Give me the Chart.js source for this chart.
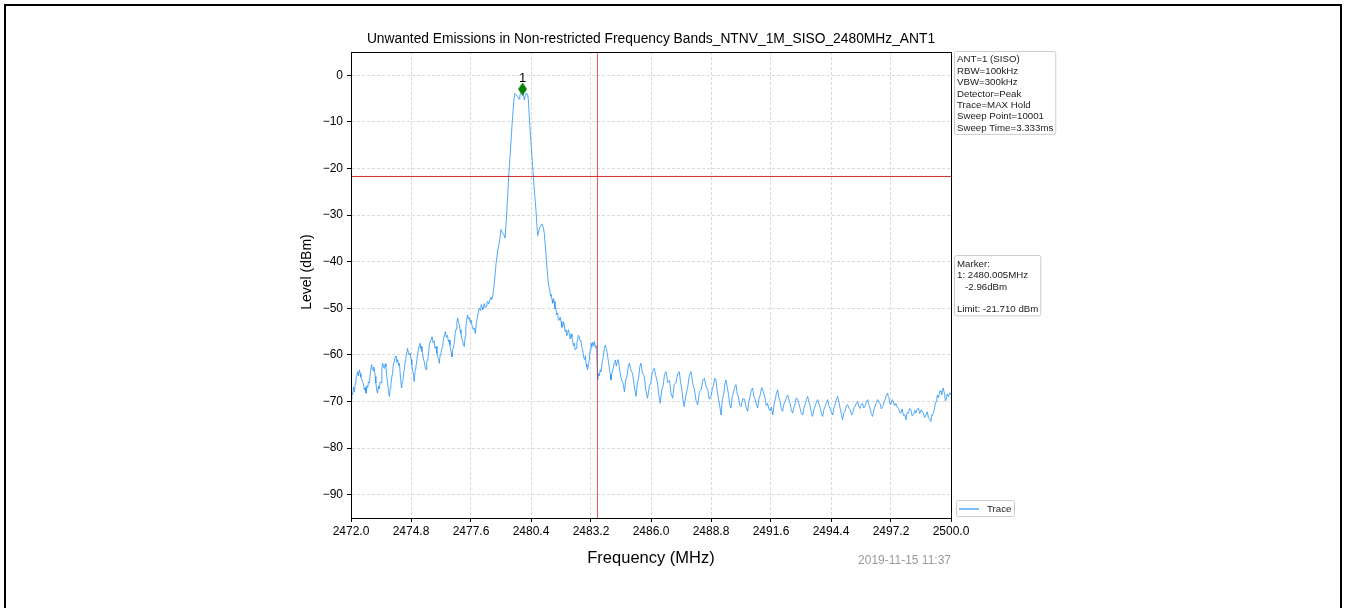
<!DOCTYPE html>
<html>
<head>
<meta charset="utf-8">
<title>Unwanted Emissions</title>
<script src="https://cdn.jsdelivr.net/npm/chart.js@4.4.1/dist/chart.umd.min.js"></script>
<style>
  html, body { margin: 0; padding: 0; background: #fff; overflow: hidden; }
  #frame { position: absolute; left: 4px; top: 4px; width: 1334px; height: 700px; border: 2px solid #000; }
  #emissionChart { position: absolute; left: 0; top: 0; }
</style>
</head>
<body>
<div id="frame"></div>
<canvas id="emissionChart" width="1346" height="608"></canvas>
<script>
const FONT = "'Liberation Sans', Arial, sans-serif";
const TRACE_COLOR = '#2493f5';
const LIMIT_COLOR = '#d42a2a';

const chartTitle = 'Unwanted Emissions in Non-restricted Frequency Bands_NTNV_1M_SISO_2480MHz_ANT1';
const timeStamp = '2019-11-15 11:37';

const xTicks = [2472.0, 2474.8, 2477.6, 2480.4, 2483.2, 2486.0, 2488.8, 2491.6, 2494.4, 2497.2, 2500.0];
const yTicks = [0, -10, -20, -30, -40, -50, -60, -70, -80, -90];

const limitDbm = -21.71;
const bandEdgeMHz = 2483.5;
const markerFreq = 2480.005;
const markerLevel = -2.96;

const settingLines = ['ANT=1 (SISO)', 'RBW=100kHz', 'VBW=300kHz', 'Detector=Peak',
  'Trace=MAX Hold', 'Sweep Point=10001', 'Sweep Time=3.333ms'];

// [frequency MHz, level dBm]
const trace = [
  [2472.00, -69.6], [2472.04, -68.2], [2472.08, -68.5], [2472.12, -66.9], [2472.16, -67.9],
  [2472.20, -66.1], [2472.23, -65.0], [2472.27, -64.6], [2472.31, -63.6], [2472.35, -64.5],
  [2472.39, -63.2], [2472.43, -64.0], [2472.46, -64.8], [2472.50, -65.1], [2472.54, -66.0],
  [2472.58, -66.1], [2472.62, -67.5], [2472.66, -67.0], [2472.70, -68.2], [2472.74, -66.6],
  [2472.78, -67.0], [2472.82, -65.8], [2472.86, -66.0], [2472.91, -63.5], [2472.96, -62.1],
  [2473.00, -63.0], [2473.03, -63.4], [2473.06, -62.6], [2473.09, -62.9], [2473.13, -64.6],
  [2473.16, -66.0], [2473.20, -67.6], [2473.24, -68.2], [2473.28, -66.7], [2473.32, -67.3],
  [2473.36, -65.8], [2473.40, -66.0], [2473.44, -63.0], [2473.48, -61.8], [2473.52, -62.6],
  [2473.56, -62.9], [2473.60, -61.9], [2473.63, -62.5], [2473.67, -64.6], [2473.71, -66.0],
  [2473.75, -67.8], [2473.79, -68.9], [2473.83, -67.2], [2473.86, -66.5], [2473.90, -64.8],
  [2473.94, -64.0], [2473.98, -62.0], [2474.02, -61.5], [2474.06, -60.5], [2474.10, -60.2],
  [2474.14, -61.6], [2474.18, -61.0], [2474.22, -62.3], [2474.26, -61.8], [2474.31, -65.0],
  [2474.36, -67.1], [2474.39, -65.8], [2474.42, -65.5], [2474.46, -63.7], [2474.49, -63.2],
  [2474.53, -61.3], [2474.56, -60.5], [2474.60, -59.6], [2474.64, -58.6], [2474.68, -59.5],
  [2474.72, -60.0], [2474.76, -59.6], [2474.80, -61.0], [2474.84, -62.1], [2474.88, -63.5],
  [2474.92, -64.3], [2474.95, -65.7], [2475.00, -63.0], [2475.03, -62.4], [2475.06, -61.8],
  [2475.10, -60.1], [2475.14, -59.0], [2475.18, -58.1], [2475.22, -57.5], [2475.25, -58.6],
  [2475.28, -58.2], [2475.31, -59.3], [2475.34, -59.6], [2475.38, -60.9], [2475.42, -61.5],
  [2475.46, -62.6], [2475.50, -63.2], [2475.53, -61.9], [2475.56, -61.0], [2475.59, -60.6],
  [2475.62, -59.6], [2475.66, -57.8], [2475.70, -57.0], [2475.74, -56.8], [2475.78, -56.1],
  [2475.83, -57.4], [2475.88, -57.0], [2475.92, -58.6], [2475.97, -58.2], [2476.01, -59.7],
  [2476.05, -60.5], [2476.09, -61.0], [2476.12, -61.8], [2476.16, -60.0], [2476.20, -59.5],
  [2476.24, -58.6], [2476.28, -58.2], [2476.31, -56.7], [2476.34, -56.0], [2476.37, -55.6],
  [2476.40, -55.0], [2476.45, -56.2], [2476.50, -55.8], [2476.55, -57.2], [2476.59, -56.8],
  [2476.62, -57.9], [2476.65, -58.8], [2476.68, -59.6], [2476.71, -60.4], [2476.74, -59.0],
  [2476.76, -58.5], [2476.79, -58.0], [2476.82, -57.5], [2476.86, -55.4], [2476.90, -54.5],
  [2476.94, -53.0], [2476.98, -52.1], [2477.01, -52.9], [2477.05, -53.5], [2477.09, -54.6],
  [2477.13, -55.4], [2477.17, -56.6], [2477.21, -57.0], [2477.25, -58.0], [2477.29, -58.2],
  [2477.33, -56.0], [2477.36, -54.0], [2477.40, -52.6], [2477.44, -51.4], [2477.48, -52.3],
  [2477.52, -52.0], [2477.56, -53.0], [2477.60, -52.5], [2477.65, -53.8], [2477.70, -54.5],
  [2477.75, -54.2], [2477.80, -55.4], [2477.85, -53.2], [2477.90, -52.0], [2477.95, -50.6],
  [2477.99, -50.0], [2478.04, -50.5], [2478.08, -49.2], [2478.12, -49.9], [2478.15, -50.3],
  [2478.19, -49.4], [2478.22, -49.0], [2478.26, -49.9], [2478.30, -49.6], [2478.34, -48.9],
  [2478.38, -48.5], [2478.42, -49.1], [2478.45, -48.8], [2478.49, -48.0], [2478.53, -47.6],
  [2478.57, -48.1], [2478.61, -47.5], [2478.68, -45.0], [2478.77, -40.4], [2478.85, -37.5],
  [2478.92, -36.0], [2479.00, -33.1], [2479.06, -33.8], [2479.12, -34.0], [2479.19, -34.9],
  [2479.26, -30.3], [2479.31, -26.0], [2479.36, -21.7], [2479.42, -17.5], [2479.47, -13.9],
  [2479.54, -8.9], [2479.60, -5.5], [2479.65, -3.9], [2479.71, -4.2], [2479.78, -4.6],
  [2479.84, -5.1], [2479.88, -4.3], [2479.93, -3.9], [2479.97, -3.5], [2480.005, -2.96],
  [2480.05, -4.2], [2480.09, -5.3], [2480.13, -4.4], [2480.17, -3.9], [2480.24, -4.0],
  [2480.28, -5.5], [2480.32, -8.9], [2480.40, -14.6], [2480.46, -18.5], [2480.51, -21.7],
  [2480.57, -25.5], [2480.63, -28.9], [2480.71, -34.4], [2480.79, -33.0], [2480.85, -32.3],
  [2480.91, -31.9], [2480.97, -32.6], [2481.02, -33.9], [2481.10, -38.5], [2481.18, -43.2],
  [2481.23, -45.3], [2481.28, -46.1], [2481.31, -47.4], [2481.34, -47.0], [2481.38, -48.2],
  [2481.41, -48.9], [2481.45, -47.9], [2481.48, -48.5], [2481.52, -50.1], [2481.56, -50.0],
  [2481.60, -51.4], [2481.64, -51.0], [2481.68, -52.6], [2481.72, -52.5], [2481.76, -51.9],
  [2481.80, -52.8], [2481.84, -54.1], [2481.88, -53.9], [2481.92, -52.9], [2481.95, -53.5],
  [2481.99, -55.0], [2482.03, -54.6], [2482.07, -55.9], [2482.11, -55.2], [2482.15, -54.6],
  [2482.19, -55.7], [2482.23, -56.6], [2482.27, -55.5], [2482.31, -56.2], [2482.34, -56.8],
  [2482.38, -58.0], [2482.42, -57.5], [2482.46, -58.9], [2482.50, -58.6], [2482.54, -57.4],
  [2482.57, -57.0], [2482.61, -55.8], [2482.65, -56.0], [2482.69, -56.9], [2482.73, -57.0],
  [2482.77, -58.4], [2482.81, -58.9], [2482.86, -60.6], [2482.90, -61.0], [2482.94, -60.2],
  [2482.97, -62.0], [2483.01, -62.6], [2483.04, -63.2], [2483.08, -62.2], [2483.12, -61.0],
  [2483.16, -58.9], [2483.20, -57.5], [2483.24, -58.3], [2483.28, -57.3], [2483.32, -58.0],
  [2483.36, -57.1], [2483.40, -58.4], [2483.43, -58.0], [2483.46, -58.6], [2483.51, -65.4],
  [2483.55, -64.0], [2483.59, -64.5], [2483.63, -63.2], [2483.67, -63.6], [2483.72, -61.6],
  [2483.77, -60.5], [2483.82, -58.6], [2483.87, -57.9], [2483.92, -58.8], [2483.98, -60.4],
  [2484.02, -61.6], [2484.06, -63.0], [2484.10, -64.2], [2484.13, -65.4], [2484.18, -63.8],
  [2484.23, -63.0], [2484.28, -61.9], [2484.34, -61.1], [2484.38, -62.4], [2484.43, -61.5],
  [2484.47, -61.0], [2484.52, -62.5], [2484.58, -64.6], [2484.64, -65.5], [2484.70, -66.2],
  [2484.76, -67.9], [2484.82, -65.4], [2484.88, -64.5], [2484.94, -62.4], [2484.99, -61.8],
  [2485.06, -63.2], [2485.14, -64.0], [2485.22, -66.8], [2485.30, -68.9], [2485.36, -66.2],
  [2485.42, -65.0], [2485.48, -62.5], [2485.53, -61.8], [2485.60, -63.9], [2485.68, -64.5],
  [2485.76, -67.6], [2485.84, -69.3], [2485.92, -66.8], [2485.99, -66.0], [2486.07, -63.5],
  [2486.15, -62.9], [2486.22, -64.4], [2486.30, -66.0], [2486.37, -68.7], [2486.43, -70.4],
  [2486.50, -67.6], [2486.57, -66.5], [2486.63, -64.2], [2486.70, -63.6], [2486.78, -65.9],
  [2486.86, -65.5], [2486.94, -68.4], [2487.01, -69.3], [2487.08, -66.4], [2487.16, -66.0],
  [2487.24, -64.1], [2487.32, -63.6], [2487.38, -65.8], [2487.44, -67.5], [2487.50, -69.9],
  [2487.55, -71.1], [2487.63, -68.6], [2487.71, -67.0], [2487.79, -64.4], [2487.87, -63.6],
  [2487.95, -66.2], [2488.03, -67.5], [2488.10, -69.8], [2488.18, -70.7], [2488.26, -67.9],
  [2488.34, -67.5], [2488.42, -65.4], [2488.49, -65.0], [2488.57, -66.8], [2488.65, -67.5],
  [2488.72, -69.5], [2488.80, -68.9], [2488.86, -67.3], [2488.92, -66.5], [2488.97, -65.0],
  [2489.03, -65.4], [2489.09, -67.8], [2489.15, -69.5], [2489.21, -71.0], [2489.27, -72.9],
  [2489.33, -69.6], [2489.39, -68.5], [2489.45, -66.1], [2489.50, -65.4], [2489.56, -67.0],
  [2489.62, -68.5], [2489.67, -70.6], [2489.73, -71.4], [2489.79, -69.0], [2489.85, -68.0],
  [2489.91, -66.9], [2489.97, -66.4], [2490.02, -68.2], [2490.08, -69.0], [2490.14, -70.8],
  [2490.20, -71.1], [2490.28, -69.4], [2490.36, -69.5], [2490.44, -71.3], [2490.51, -72.1],
  [2490.56, -70.2], [2490.62, -69.0], [2490.68, -67.6], [2490.74, -67.1], [2490.80, -68.9],
  [2490.86, -69.5], [2490.92, -70.6], [2490.98, -71.4], [2491.04, -69.4], [2491.10, -68.5],
  [2491.16, -67.0], [2491.21, -67.5], [2491.27, -68.3], [2491.33, -69.5], [2491.38, -70.9],
  [2491.44, -70.4], [2491.50, -71.6], [2491.56, -72.0], [2491.62, -71.2], [2491.68, -72.9],
  [2491.74, -70.8], [2491.80, -69.5], [2491.86, -68.1], [2491.91, -67.5], [2491.97, -69.2],
  [2492.03, -70.0], [2492.08, -71.6], [2492.14, -72.1], [2492.20, -70.6], [2492.26, -70.0],
  [2492.32, -69.1], [2492.38, -68.6], [2492.44, -69.8], [2492.50, -70.5], [2492.55, -71.9],
  [2492.61, -72.5], [2492.67, -71.2], [2492.73, -70.5], [2492.78, -69.2], [2492.84, -69.6],
  [2492.90, -70.4], [2492.96, -71.5], [2493.02, -72.6], [2493.08, -72.9], [2493.14, -71.3],
  [2493.20, -70.5], [2493.26, -69.5], [2493.31, -68.9], [2493.37, -70.1], [2493.43, -71.0],
  [2493.49, -72.6], [2493.54, -73.2], [2493.60, -71.8], [2493.66, -71.0], [2493.72, -70.1],
  [2493.78, -69.6], [2493.84, -70.6], [2493.90, -71.5], [2493.95, -72.5], [2494.01, -73.2],
  [2494.07, -71.7], [2494.13, -71.0], [2494.19, -70.2], [2494.24, -69.6], [2494.30, -70.8],
  [2494.36, -71.5], [2494.42, -72.3], [2494.48, -72.9], [2494.54, -71.3], [2494.60, -70.5],
  [2494.66, -69.4], [2494.71, -68.9], [2494.77, -70.2], [2494.83, -71.5], [2494.89, -72.8],
  [2494.94, -73.9], [2495.00, -72.4], [2495.06, -72.0], [2495.12, -70.9], [2495.18, -70.7],
  [2495.24, -71.5], [2495.30, -71.8], [2495.36, -72.9], [2495.41, -72.5], [2495.47, -71.4],
  [2495.53, -71.0], [2495.59, -70.3], [2495.64, -70.0], [2495.70, -71.1], [2495.76, -71.5],
  [2495.82, -70.6], [2495.87, -70.4], [2495.93, -71.4], [2495.99, -71.0], [2496.05, -70.1],
  [2496.11, -69.6], [2496.16, -70.5], [2496.22, -71.5], [2496.28, -72.6], [2496.34, -73.2],
  [2496.40, -71.8], [2496.46, -71.0], [2496.52, -70.2], [2496.57, -69.6], [2496.63, -70.1],
  [2496.69, -70.5], [2496.75, -71.6], [2496.81, -71.1], [2496.87, -70.3], [2496.93, -69.5],
  [2496.98, -68.7], [2497.04, -68.2], [2497.08, -69.1], [2497.12, -69.5], [2497.16, -70.6],
  [2497.20, -70.4], [2497.26, -69.6], [2497.31, -70.0], [2497.37, -70.9], [2497.43, -70.4],
  [2497.49, -71.2], [2497.55, -71.5], [2497.61, -72.4], [2497.66, -72.5], [2497.72, -71.6],
  [2497.78, -73.0], [2497.84, -72.8], [2497.90, -73.9], [2497.95, -72.4], [2498.01, -72.5],
  [2498.07, -71.5], [2498.13, -71.8], [2498.19, -73.1], [2498.25, -72.8], [2498.31, -71.9],
  [2498.36, -72.5], [2498.42, -71.6], [2498.48, -71.5], [2498.54, -72.6], [2498.60, -71.8],
  [2498.66, -72.1], [2498.71, -72.5], [2498.77, -73.4], [2498.83, -72.9], [2498.89, -72.2],
  [2498.95, -73.5], [2499.01, -73.8], [2499.06, -74.3], [2499.10, -72.9], [2499.14, -73.0],
  [2499.18, -72.2], [2499.22, -71.8], [2499.26, -70.6], [2499.30, -70.0], [2499.34, -69.1],
  [2499.37, -68.6], [2499.41, -69.2], [2499.45, -68.5], [2499.49, -67.7], [2499.53, -67.9],
  [2499.57, -68.6], [2499.60, -67.5], [2499.64, -67.1], [2499.70, -68.5], [2499.74, -69.9],
  [2499.77, -69.6], [2499.82, -68.4], [2499.88, -69.0], [2499.94, -68.1], [2500.00, -68.6]
];

// thin green diamond for the peak marker
const diamond = document.createElement('canvas');
diamond.width = 9;
diamond.height = 13;
const dctx = diamond.getContext('2d');
dctx.fillStyle = '#008000';
dctx.beginPath();
dctx.moveTo(4.5, 0);
dctx.lineTo(9, 6.5);
dctx.lineTo(4.5, 13);
dctx.lineTo(0, 6.5);
dctx.closePath();
dctx.fill();

function dbmLabel(v) {
    return v < 0 ? '\u2212' + Math.abs(v) : String(v);
}

function textBox(ctx, x, y, lines, lineH, firstBase) {
    ctx.font = '9.7px ' + FONT;
    let w = 0;
    lines.forEach(l => { w = Math.max(w, ctx.measureText(l).width); });
    const h = firstBase + lineH * (lines.length - 1) + 3;
    ctx.fillStyle = '#fff';
    ctx.strokeStyle = '#cccccc';
    ctx.lineWidth = 1;
    ctx.beginPath();
    ctx.roundRect(x + 0.5, y + 0.5, w + 5, h, 2);
    ctx.fill();
    ctx.stroke();
    ctx.fillStyle = '#222';
    ctx.textAlign = 'left';
    ctx.textBaseline = 'alphabetic';
    lines.forEach((l, i) => ctx.fillText(l, x + 3, y + firstBase + i * lineH));
}

const annotations = {
    id: 'annotations',
    afterDraw(chart) {
        const ctx = chart.ctx;
        const area = chart.chartArea;
        const xs = chart.scales.x;
        const ys = chart.scales.y;
        const cx = (area.left + area.right) / 2;
        ctx.save();

        // plot frame
        ctx.strokeStyle = '#000';
        ctx.lineWidth = 1;
        ctx.strokeRect(area.left + 0.5, area.top + 0.5, area.right - area.left, area.bottom - area.top);

        ctx.fillStyle = '#000';
        ctx.textAlign = 'center';
        ctx.textBaseline = 'alphabetic';
        ctx.font = '13.8px ' + FONT;
        ctx.fillText(chartTitle, cx, 43);

        ctx.font = '16.5px ' + FONT;
        ctx.fillText('Frequency (MHz)', cx, 563);

        ctx.save();
        ctx.translate(307, 272);
        ctx.rotate(-Math.PI / 2);
        ctx.textBaseline = 'middle';
        ctx.font = '14px ' + FONT;
        ctx.fillText('Level (dBm)', 0, 0);
        ctx.restore();

        ctx.textAlign = 'right';
        ctx.fillStyle = '#999';
        ctx.font = '12px ' + FONT;
        ctx.fillText(timeStamp, area.right, 564);

        // marker number above the peak
        ctx.textAlign = 'center';
        ctx.fillStyle = '#000';
        ctx.font = '13px ' + FONT;
        ctx.fillText('1', xs.getPixelForValue(markerFreq), ys.getPixelForValue(markerLevel) - 7);

        textBox(ctx, 954, 51, settingLines, 11.43, 11.3);
        textBox(ctx, 954, 255, [
            'Marker:',
            '1: ' + markerFreq.toFixed(3) + 'MHz',
            '   ' + markerLevel.toFixed(2) + 'dBm',
            '',
            'Limit: ' + limitDbm.toFixed(3) + ' dBm'
        ], 11.43, 11.7);

        // legend
        ctx.fillStyle = '#fff';
        ctx.strokeStyle = '#cccccc';
        ctx.beginPath();
        ctx.roundRect(956.5, 500.5, 58, 16, 2);
        ctx.fill();
        ctx.stroke();
        ctx.strokeStyle = TRACE_COLOR;
        ctx.lineWidth = 1.2;
        ctx.beginPath();
        ctx.moveTo(959, 509);
        ctx.lineTo(979, 509);
        ctx.stroke();
        ctx.fillStyle = '#222';
        ctx.textAlign = 'left';
        ctx.font = '9.7px ' + FONT;
        ctx.fillText('Trace', 987, 512.3);

        ctx.restore();
    }
};

const emissionChart = new Chart(document.getElementById('emissionChart'), {
    type: 'line',
    data: {
        datasets: [{
                label: 'Trace',
                data: trace.map(p => ({ x: p[0], y: p[1] })),
                borderColor: TRACE_COLOR,
                borderWidth: 0.8,
                pointRadius: 0,
                tension: 0,
                order: 3
            },
            {
                label: 'Limit',
                data: [{ x: 2472, y: limitDbm }, { x: 2500, y: limitDbm }],
                borderColor: LIMIT_COLOR,
                borderWidth: 1,
                pointRadius: 0,
                order: 2
            },
            {
                label: 'Band edge',
                data: [{ x: bandEdgeMHz, y: -95 }, { x: bandEdgeMHz, y: 5 }],
                borderColor: LIMIT_COLOR,
                borderWidth: 0.8,
                pointRadius: 0,
                order: 1
            },
            {
                label: 'Marker 1',
                data: [{ x: markerFreq, y: markerLevel }],
                showLine: false,
                pointStyle: diamond,
                pointRadius: 6,
                pointHoverRadius: 6,
                order: 0
            }
        ]
    },
    options: {
        responsive: false,
        animation: false,
        devicePixelRatio: 1,
        layout: {
            padding: { left: 295, top: 52, right: 395, bottom: 40 }
        },
        plugins: {
            legend: { display: false },
            title: { display: false },
            tooltip: { enabled: false }
        },
        scales: {
            x: {
                type: 'linear',
                min: 2472,
                max: 2500,
                afterBuildTicks: scale => { scale.ticks = xTicks.map(v => ({ value: v })); },
                afterFit: scale => { scale.height = 50; },
                ticks: {
                    callback: v => v.toFixed(1),
                    font: { size: 12, family: FONT },
                    color: '#000',
                    padding: 2,
                    maxRotation: 0,
                    autoSkip: false
                },
                grid: { color: '#d0d0d0', lineWidth: 0.8, tickColor: '#000', tickLength: 4, tickWidth: 1 },
                border: { color: '#000', width: 1, dash: [3, 2] }
            },
            y: {
                min: -95,
                max: 5,
                afterBuildTicks: scale => { scale.ticks = yTicks.map(v => ({ value: v })); },
                afterFit: scale => { scale.width = 56; },
                ticks: {
                    callback: v => dbmLabel(v),
                    font: { size: 12, family: FONT },
                    color: '#000',
                    padding: 4,
                    autoSkip: false
                },
                grid: { color: '#d0d0d0', lineWidth: 0.8, tickColor: '#000', tickLength: 4, tickWidth: 1 },
                border: { color: '#000', width: 1, dash: [3, 2] }
            }
        }
    },
    plugins: [annotations]
});
</script>
</body>
</html>
